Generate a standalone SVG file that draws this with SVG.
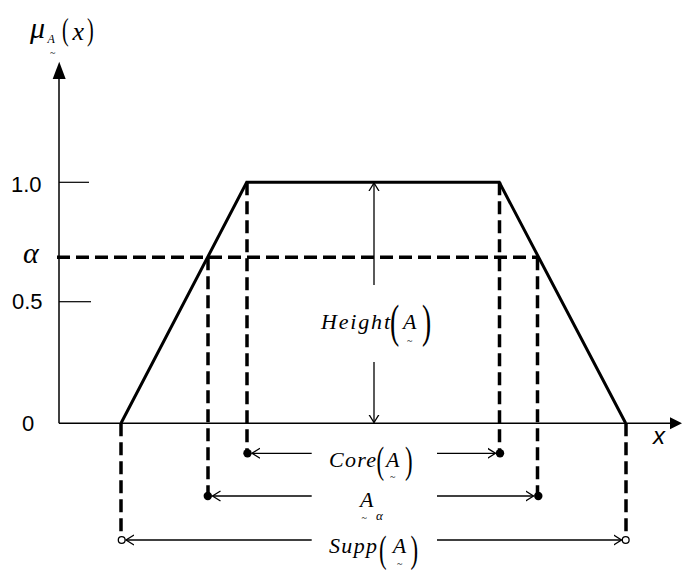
<svg xmlns="http://www.w3.org/2000/svg" width="682" height="572" viewBox="0 0 682 572">
<defs>
<style>
.ax{stroke:#000;stroke-width:1.5;fill:none}
.tick{stroke:#000;stroke-width:1.2;fill:none}
.trap{stroke:#000;stroke-width:3;fill:none;stroke-linejoin:miter}
.dash{stroke:#000;stroke-width:3.5;fill:none;stroke-dasharray:13 6}
.dim{stroke:#000;stroke-width:1.3;fill:none;marker-end:url(#v)}
.num{font-family:"Liberation Sans",Arial,sans-serif;font-size:22px;fill:#000}
.m{font-family:"Liberation Serif","Times New Roman",serif;font-style:italic;fill:#000}
.par{font-family:"Liberation Serif","Times New Roman",serif;fill:#000}
.til{font-family:"Liberation Serif","Times New Roman",serif;font-size:10px;fill:#000}
</style>
<marker id="v" markerUnits="userSpaceOnUse" markerWidth="12" markerHeight="12" refX="8" refY="5" orient="auto" viewBox="0 0 12 10">
<path d="M0,0 L8,5 L0,10" fill="none" stroke="#000" stroke-width="1.3"/>
</marker>
</defs>
<rect width="682" height="572" fill="#fff"/>

<g id="axes">
<line class="ax" x1="59" y1="423.3" x2="671" y2="423.3"/>
<polygon points="670,417.3 682,423.3 670,429.3" fill="#000"/>
<line class="ax" x1="59" y1="423.3" x2="59" y2="78"/>
<polygon points="52.7,79 59.2,61.7 65.7,79" fill="#000"/>
<line class="tick" x1="59" y1="182.3" x2="89" y2="182.3"/>
<line class="tick" x1="59" y1="301.7" x2="91" y2="301.7"/>
</g>

<g id="axis-labels">
<text class="num" x="11" y="192.3">1.0</text>
<text class="num" x="12" y="309">0.5</text>
<text class="num" x="22" y="431">0</text>
<text class="m" x="23" y="263" font-size="30">α</text>
<text x="653" y="444" font-family="Liberation Sans,Arial,sans-serif" font-style="italic" font-size="24">x</text>
<g id="mu-label">
<text class="m" x="30" y="38" font-size="30">μ</text>
<text class="m" x="47.5" y="43" font-size="12">A</text>
<text class="til" x="50" y="56" font-size="8">~</text>
<text class="par" font-size="31" transform="translate(62,39.5) scale(0.65,1)">(</text>
<text class="m" x="72.5" y="40" font-size="26">x</text>
<text class="par" font-size="31" transform="translate(87,39.5) scale(0.65,1)">)</text>
</g>
</g>

<g id="guides">
<line class="dash" x1="57" y1="257.3" x2="537.5" y2="257.3"/>
<line class="dash" x1="121" y1="423.3" x2="121" y2="536"/>
<line class="dash" x1="208" y1="257.3" x2="208" y2="496"/>
<line class="dash" x1="247" y1="182.3" x2="247" y2="453"/>
<line class="dash" x1="499.5" y1="182.3" x2="499.5" y2="453"/>
<line class="dash" x1="537.5" y1="257.3" x2="537.5" y2="496"/>
<line class="dash" x1="626" y1="423.3" x2="626" y2="536"/>
</g>

<g id="trapezoid">
<polyline class="trap" points="121,423.3 246.7,182.3 499.3,182.3 625.7,423.3"/>
</g>

<g id="connectors">
<line class="dim" x1="374" y1="285" x2="374" y2="183"/>
<line class="dim" x1="374" y1="362" x2="374" y2="422.5"/>
<line class="dim" x1="311.7" y1="453.3" x2="252" y2="453.3"/>
<line class="dim" x1="437" y1="453.3" x2="495.5" y2="453.3"/>
<line class="dim" x1="311.7" y1="496" x2="212.5" y2="496"/>
<line class="dim" x1="437" y1="496" x2="533.5" y2="496"/>
<line class="dim" x1="311.7" y1="540" x2="126" y2="540"/>
<line class="dim" x1="437" y1="540" x2="621.5" y2="540"/>
<circle cx="247.5" cy="453.3" r="4.2" fill="#000"/>
<circle cx="500" cy="453.3" r="4.2" fill="#000"/>
<circle cx="207.8" cy="496" r="4.2" fill="#000"/>
<circle cx="538.3" cy="496" r="4.2" fill="#000"/>
<circle cx="121.7" cy="540" r="3.4" fill="#fff" stroke="#000" stroke-width="1.3"/>
<circle cx="625.7" cy="540" r="3.4" fill="#fff" stroke="#000" stroke-width="1.3"/>
</g>

<g id="label-height">
<text class="m" x="321" y="329" font-size="22" textLength="69" lengthAdjust="spacing">Height</text>
<text class="par" font-size="46" transform="translate(390,337) scale(0.6,1)">(</text>
<text class="m" x="403" y="329" font-size="22">A</text>
<text class="til" x="407" y="344">~</text>
<text class="par" font-size="46" transform="translate(422,337) scale(0.6,1)">)</text>
</g>

<g id="label-core">
<text class="m" x="329" y="466.5" font-size="22" textLength="47" lengthAdjust="spacing">Core</text>
<text class="par" font-size="38" transform="translate(376.5,473.4) scale(0.6,1)">(</text>
<text class="m" x="386" y="466.5" font-size="22">A</text>
<text class="til" x="390" y="480">~</text>
<text class="par" font-size="38" transform="translate(405,473.4) scale(0.6,1)">)</text>
</g>

<g id="label-alpha-cut">
<text class="m" x="360" y="507" font-size="22">A</text>
<text class="til" x="361.5" y="521" font-size="8">~</text>
<text class="m" x="376" y="520" font-size="13">α</text>
</g>

<g id="label-supp">
<text class="m" x="329" y="552.7" font-size="22" textLength="48" lengthAdjust="spacing">Supp</text>
<text class="par" font-size="38" transform="translate(379,562.4) scale(0.6,1)">(</text>
<text class="m" x="392.7" y="552.5" font-size="22">A</text>
<text class="til" x="397" y="567">~</text>
<text class="par" font-size="38" transform="translate(410.5,562.4) scale(0.6,1)">)</text>
</g>
</svg>
